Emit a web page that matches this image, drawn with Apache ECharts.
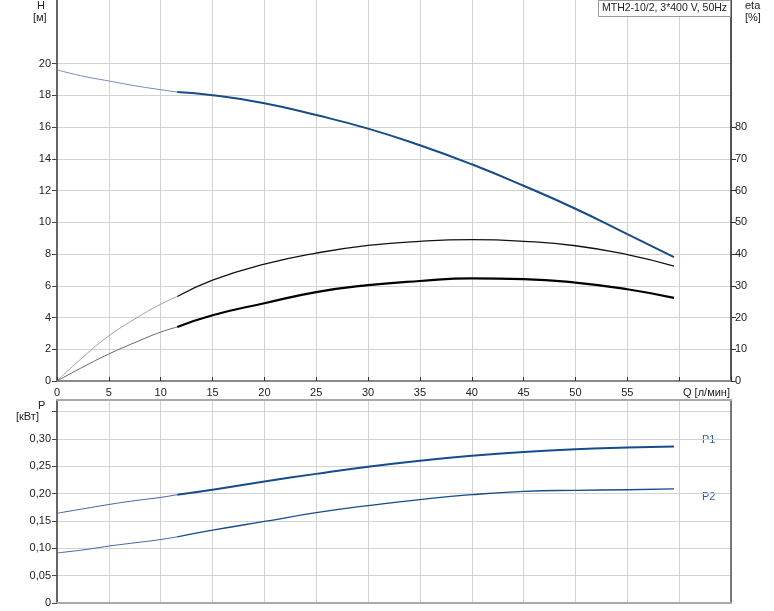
<!DOCTYPE html>
<html><head><meta charset="utf-8">
<script src="https://cdn.jsdelivr.net/npm/echarts@6/dist/echarts.min.js"></script>
<style>html,body{margin:0;padding:0;background:#fff}#c{width:774px;height:611px}</style>
</head><body><div id="c"></div>
<script>
// Flow (л/мин)
const Q = [0, 2.5, 5, 7.5, 10, 11.6, 15, 20, 25, 30, 35, 40, 45, 50, 55, 59.5];
const SPLIT = 5; // index where the duty range (thick line) starts
// Head H (м)
const H = [19.6, 19.2, 18.9, 18.6, 18.35, 18.2, 18.0, 17.5, 16.75, 15.9, 14.85, 13.65, 12.3, 10.85, 9.25, 7.8];
// Efficiency curves (%)
const ETA_A = [0, 7.5, 14.2, 19.5, 24.2, 26.6, 31.8, 36.8, 40.3, 42.7, 44.0, 44.5, 44.0, 42.6, 39.8, 36.2];
const ETA_B = [0, 4.4, 8.5, 12.1, 15.4, 17.0, 20.7, 24.5, 28.0, 30.2, 31.5, 32.3, 32.1, 31.0, 28.9, 26.2];
// Power (кВт)
const P1 = [0.164, 0.172, 0.180, 0.187, 0.193, 0.198, 0.207, 0.222, 0.236, 0.249, 0.260, 0.269, 0.276, 0.281, 0.284, 0.286];
const P2 = [0.0915, 0.097, 0.104, 0.110, 0.116, 0.121, 0.133, 0.149, 0.165, 0.178, 0.189, 0.198, 0.204, 0.206, 0.207, 0.2085];
// Tick labels
const Q_TICKS = [0, 5, 10, 15, 20, 25, 30, 35, 40, 45, 50, 55];
const H_TICKS = [0, 2, 4, 6, 8, 10, 12, 14, 16, 18, 20];
const ETA_TICKS = [0, 10, 20, 30, 40, 50, 60, 70, 80];
const P_TICKS = [0, 0.05, 0.10, 0.15, 0.20, 0.25, 0.30, 0.35];
const P_LABELS = [0, 0.05, 0.10, 0.15, 0.20, 0.25, 0.30];
const TITLE = 'MTH2-10/2, 3*400 V, 50Hz';

const FONT = 'Liberation Sans, Arial, sans-serif';
const pairs = (arr, a, b) => Q.slice(a, b).map((q, i) => [q, arr[a + i]]);
const thin = arr => pairs(arr, 0, SPLIT + 1);
const thick = arr => pairs(arr, SPLIT, Q.length);
const BLUE = '#164c8a';

function line(name, data, xi, yi, color, width) {
  return {
    name, type: 'line', data, xAxisIndex: xi, yAxisIndex: yi, smooth: 0.5,
    symbol: 'none', silent: true, animation: false,
    lineStyle: { color, width }
  };
}

const gridLine = { show: true, lineStyle: { color: '#d2d2d2', width: 1 } };
const lbl = { fontFamily: FONT, fontSize: 11, color: '#222' };

const chart = echarts.init(document.getElementById('c'), null, { renderer: 'canvas' });
chart.setOption({
  animation: false,
  grid: [
    { left: 57, right: 43, top: 0, height: 381 },
    { left: 57, right: 43, top: 400, height: 203 }
  ],
  xAxis: [
    { gridIndex: 0, type: 'value', min: 0, max: 65, interval: 5,
      axisLine: { show: true, onZero: false, lineStyle: { color: '#8a8a8a', width: 2 } },
      axisTick: { show: true, inside: true, length: 4, lineStyle: { color: '#333' } },
      axisLabel: Object.assign({ margin: 6, customValues: Q_TICKS }, lbl),
      splitLine: gridLine },
    { gridIndex: 1, type: 'value', min: 0, max: 65, interval: 5,
      axisLine: { show: true, onZero: false, lineStyle: { color: '#aaaaaa', width: 2 } },
      axisTick: { show: false }, axisLabel: { show: false },
      splitLine: gridLine },
    { gridIndex: 1, type: 'value', min: 0, max: 65, interval: 5, position: 'top',
      axisLine: { show: true, onZero: false, lineStyle: { color: '#aaaaaa', width: 2 } },
      axisTick: { show: false }, axisLabel: { show: false }, splitLine: { show: false } }
  ],
  yAxis: [
    { gridIndex: 0, type: 'value', min: 0, max: 24, interval: 2,
      axisLine: { show: true, onZero: false, lineStyle: { color: '#666', width: 2 } },
      axisTick: { show: true, length: 5, customValues: H_TICKS, lineStyle: { color: '#444' } },
      axisLabel: Object.assign({ margin: 6, customValues: H_TICKS }, lbl),
      splitLine: gridLine },
    { gridIndex: 0, type: 'value', min: 0, max: 120, interval: 10, position: 'right',
      axisLine: { show: true, onZero: false, lineStyle: { color: '#222', width: 1.5 } },
      axisTick: { show: true, length: 5, customValues: ETA_TICKS, lineStyle: { color: '#333' } },
      axisLabel: Object.assign({ margin: 4, customValues: ETA_TICKS }, lbl),
      splitLine: { show: false } },
    { gridIndex: 1, type: 'value', min: 0, max: 0.371, interval: 0.05,
      axisLine: { show: true, onZero: false, lineStyle: { color: '#666', width: 2 } },
      axisTick: { show: true, length: 5, customValues: P_TICKS, lineStyle: { color: '#444' } },
      axisLabel: Object.assign({ margin: 6, customValues: P_LABELS,
        formatter: v => (v === 0 ? '0' : v.toFixed(2).replace('.', ',')) }, lbl),
      splitLine: gridLine },
    { gridIndex: 1, type: 'value', min: 0, max: 0.371, position: 'right',
      axisLine: { show: true, onZero: false, lineStyle: { color: '#555', width: 1.5 } },
      axisTick: { show: false }, axisLabel: { show: false }, splitLine: { show: false } }
  ],
  series: [
    line('H thin', thin(H), 0, 0, '#6d8cb8', 1),
    line('H', thick(H), 0, 0, BLUE, 2),
    line('eta A thin', thin(ETA_A), 0, 1, '#8a8a8a', 0.8),
    line('eta A', thick(ETA_A), 0, 1, '#111', 1.3),
    line('eta B thin', thin(ETA_B), 0, 1, '#666', 1),
    line('eta B', thick(ETA_B), 0, 1, '#000', 2.2),
    line('P1 thin', thin(P1), 1, 2, '#3d64a0', 1),
    line('P1', thick(P1), 1, 2, BLUE, 2),
    line('P2 thin', thin(P2), 1, 2, '#3d64a0', 1),
    line('P2', thick(P2), 1, 2, BLUE, 1.3)
  ],
  graphic: [
    { type: 'text', left: 37, top: 0, style: { text: 'H', font: '11px ' + FONT, fill: '#222' } },
    { type: 'text', left: 33, top: 12, style: { text: '[м]', font: '11px ' + FONT, fill: '#222' } },
    { type: 'text', left: 745, top: 0, style: { text: 'eta', font: '11px ' + FONT, fill: '#222' } },
    { type: 'text', left: 745, top: 12, style: { text: '[%]', font: '11px ' + FONT, fill: '#222' } },
    { type: 'text', left: 38, top: 400, style: { text: 'P', font: '11px ' + FONT, fill: '#222' } },
    { type: 'text', left: 16, top: 411, style: { text: '[кВт]', font: '11px ' + FONT, fill: '#222' } },
    { type: 'text', left: 683, top: 387, style: { text: 'Q [л/мин]', font: '11px ' + FONT, fill: '#222' } },
    { type: 'text', left: 702, top: 434, style: { text: 'P1', font: '11px ' + FONT, fill: '#2a5da3' } },
    { type: 'text', left: 702, top: 491, style: { text: 'P2', font: '11px ' + FONT, fill: '#2a5da3' } },
    { type: 'rect', left: 598, top: 0, z: 10, shape: { width: 132, height: 16 },
      style: { fill: '#fff', stroke: '#999', lineWidth: 1 } },
    { type: 'text', left: 602, top: 3, z: 11, style: { text: TITLE, font: '10.5px ' + FONT, fill: '#222' } }
  ]
});
</script>
</body></html>
